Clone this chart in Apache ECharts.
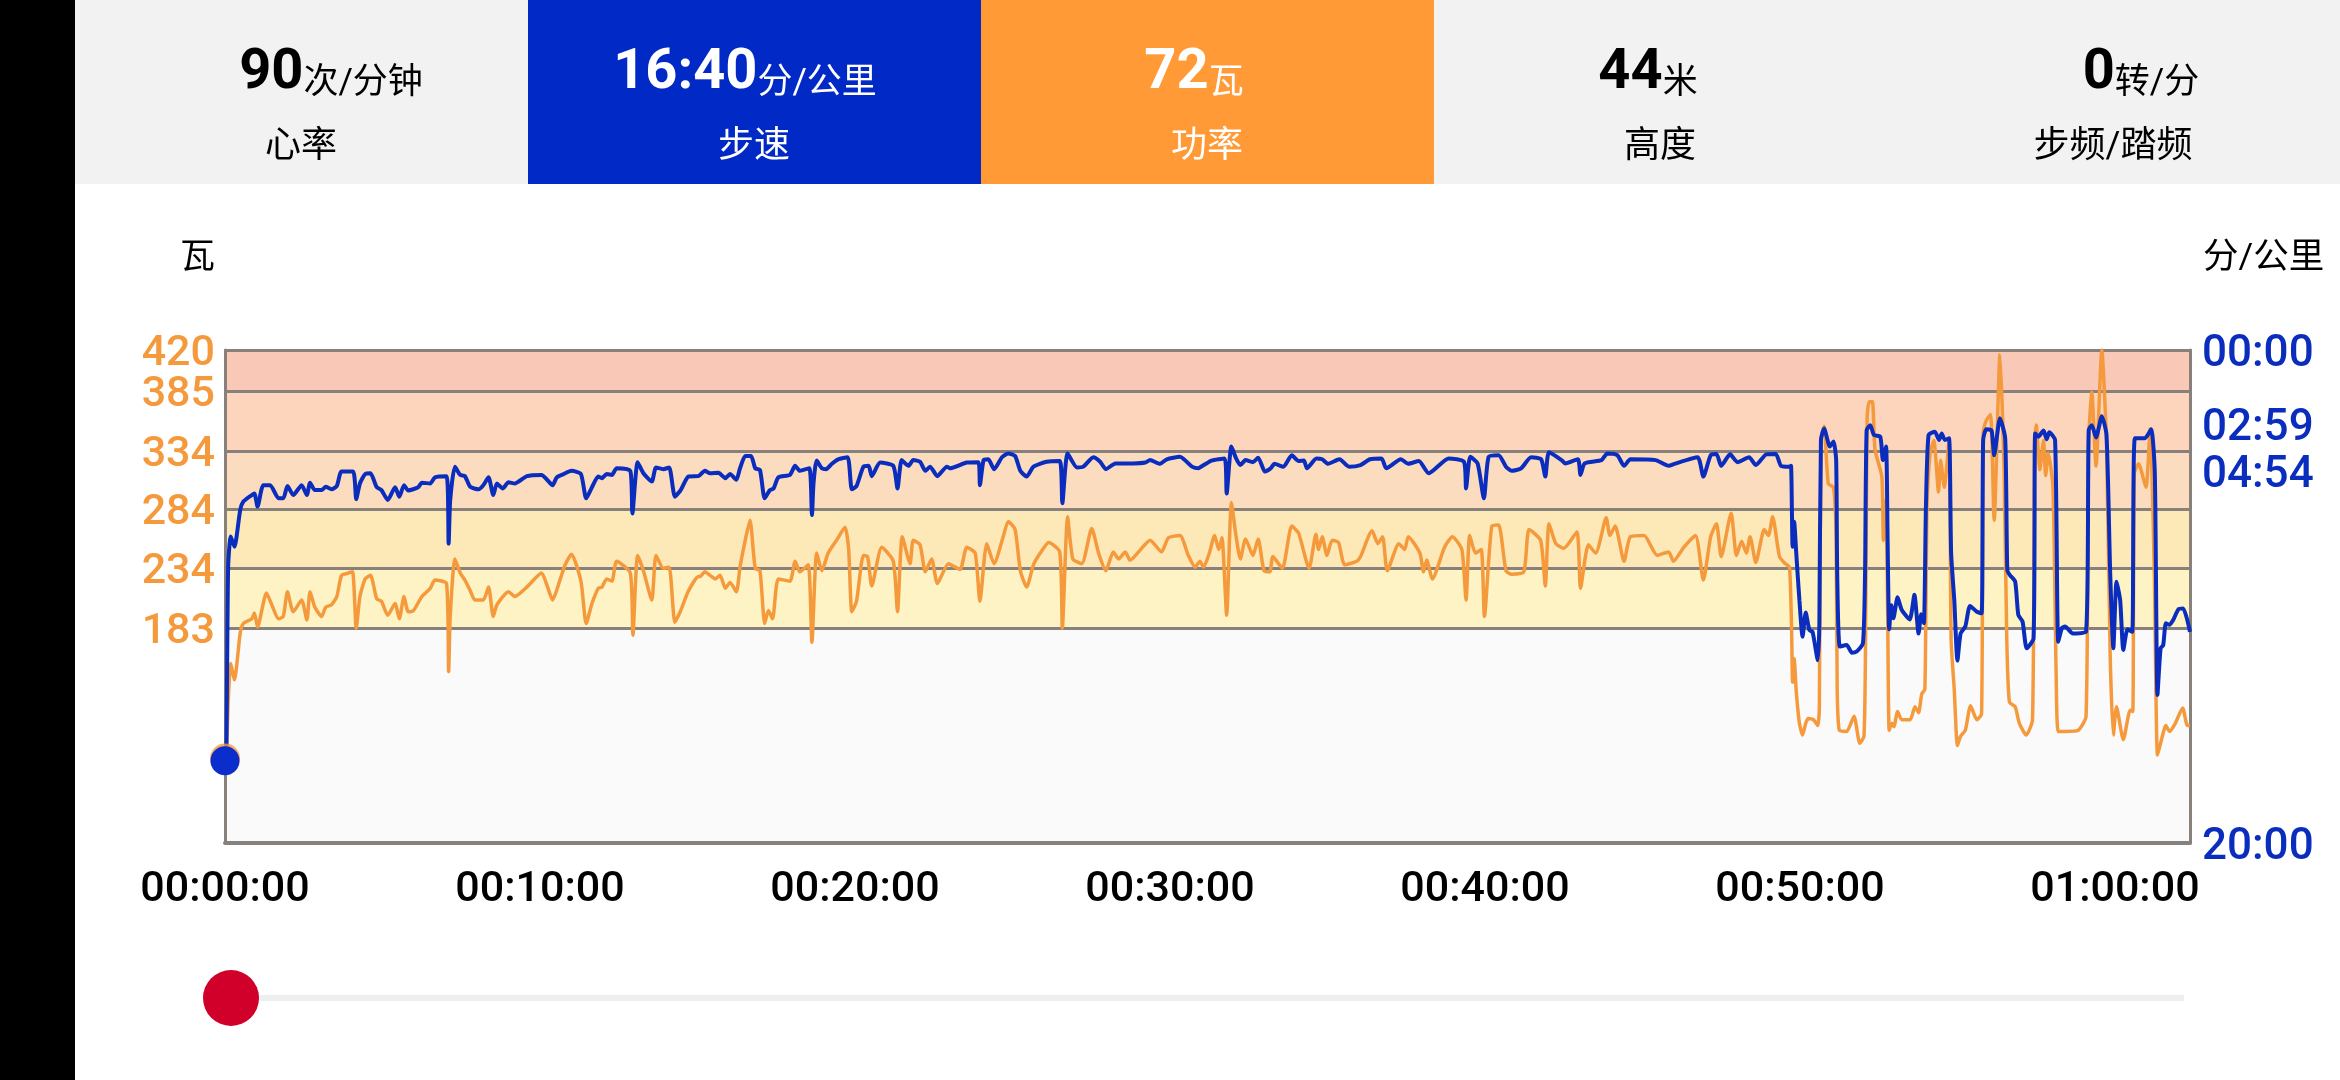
<!DOCTYPE html>
<html lang="zh">
<head>
<meta charset="utf-8">
<title>功率与步速</title>
<style>
  html, body { margin: 0; padding: 0; background: #fff; }
  #chart { width: 2340px; height: 1080px; }
</style>
<script src="https://cdn.jsdelivr.net/npm/echarts@6/dist/echarts.min.js"></script>
</head>
<body>
<div id="chart"></div>
<script>
const FONT = "Roboto, 'Noto Sans CJK SC', sans-serif";
const ORANGE = "#f59a3c";
const BLUE = "#0a2dbe";
const GRID_GREY = "#88807a";

const tileValues = ["90", "16:40", "72", "44", "0"];
const tileUnits = ["次/分钟", "分/公里", "瓦", "米", "转/分"];
const tileLabels = ["心率", "步速", "功率", "高度", "步频/踏频"];

const timeTicks = [0, 600, 1200, 1800, 2400, 3000, 3600];
const powerLines = [183, 234, 284, 334, 385, 420];
const powerTicks = [183, 234, 284, 334, 385];
const powerTopTick = [420];
const paceTicks = [0, 179, 294, 1200];
const bandEdges = [0, 183, 234, 284, 334, 385, 420];
const bandColors = ["#fafafb", "#fdf3c4", "#fde8b8", "#fcdcbe", "#fdd5bc", "#fac8b6"];

// seconds from start
const powerTimes = [
  0, 2, 6, 11, 18, 29, 35, 51, 56, 62, 79, 89, 102, 111, 119, 130, 146, 156, 162, 171, 184, 192, 203, 213, 222, 235, 243, 250, 257, 267, 277, 289, 298, 310, 324, 332, 341, 349, 359, 375, 391, 400, 422, 426, 429, 438, 448, 457, 467, 476, 492, 502, 511, 518, 540, 552, 575, 603, 613, 624, 638, 648, 660, 678, 688, 699, 711, 718, 727, 737, 746, 772, 777, 786, 797, 813, 821, 835, 846, 857, 868, 883, 902,
  905, 914, 924, 934, 943, 953, 962, 974, 981, 991, 1000, 1010, 1019, 1028, 1035, 1043, 1054, 1076, 1086, 1095, 1111, 1118, 1127, 1137, 1149, 1165, 1181, 1188, 1194, 1203, 1216, 1224, 1232, 1251, 1273, 1281, 1290, 1305, 1311, 1324, 1334, 1346, 1357, 1378, 1400, 1413, 1429, 1438, 1451, 1465, 1483, 1492, 1505, 1515, 1527, 1540, 1553, 1569, 1590, 1595, 1605, 1615, 1632, 1651, 1664, 1678, 1692, 1702, 1715, 1724, 1746, 1762, 1784, 1797, 1819, 1835, 1848,
  1857, 1864, 1875, 1885, 1893, 1899, 1908, 1917, 1926, 1934, 1944, 1958, 1968, 1979, 1990, 1996, 2014, 2032, 2045, 2065, 2078, 2083, 2090, 2099, 2109, 2121, 2133, 2156, 2163, 2185, 2196, 2205, 2214, 2236, 2247, 2254, 2276, 2283, 2289, 2300, 2323, 2338, 2356, 2364, 2371, 2382, 2393, 2399, 2413, 2426, 2440, 2451, 2474, 2484, 2506, 2515, 2522, 2535, 2550, 2575, 2582, 2597, 2611, 2631, 2638, 2648, 2665, 2677, 2703, 2728, 2750, 2759, 2779, 2801, 2816, 2830, 2841, 2850, 2869, 2879, 2889, 2898, 2905, 2916, 2932, 2940, 2948, 2961, 2972, 2980,
  2984, 2986, 2989, 2993, 2999, 3005, 3011, 3016, 3026, 3034, 3037, 3040, 3046, 3054, 3064, 3069, 3071, 3075, 3089, 3103, 3114, 3122, 3125, 3128, 3132, 3138, 3143, 3156, 3159, 3164, 3167, 3170, 3175, 3179, 3186, 3194, 3210, 3219, 3226, 3232, 3238, 3242, 3248, 3255, 3264, 3268, 3275, 3284, 3288, 3294, 3300, 3306, 3315, 3325, 3337, 3346, 3349, 3355, 3363, 3370, 3381, 3389, 3394, 3399, 3410, 3418, 3431, 3443, 3447, 3450, 3457, 3464, 3468, 3473, 3482, 3488, 3492, 3505, 3530, 3545, 3550, 3556, 3564, 3575, 3584, 3591, 3597, 3603, 3616, 3629, 3634, 3637, 3645, 3659, 3667, 3675, 3681, 3687, 3697, 3704, 3715, 3729, 3738, 3743
];
// watts
const powerValues = [
  72, 72, 120, 153, 139, 179, 187, 191, 196, 184, 213, 203, 191, 193, 214, 197, 207, 190, 214, 201, 193, 201, 203, 210, 228, 230, 231, 183, 210, 225, 228, 208, 206, 194, 204, 191, 210, 197, 198, 210, 217, 224, 221, 146, 193, 242, 230, 224, 215, 207, 207, 218, 193, 203, 214, 210, 218, 230, 220, 207, 224, 237, 246, 223, 187, 204, 217, 218, 225, 223, 240, 230, 177, 245, 232, 207, 245, 234, 235, 188, 198, 215, 227,
  227, 231, 228, 225, 228, 217, 222, 214, 235, 258, 275, 234, 232, 187, 198, 191, 225, 223, 240, 231, 237, 171, 247, 232, 247, 258, 269, 250, 197, 206, 245, 244, 219, 252, 240, 197, 261, 238, 258, 254, 231, 242, 221, 238, 233, 252, 247, 206, 255, 238, 262, 274, 267, 232, 218, 237, 247, 256, 248, 183, 278, 242, 238, 268, 247, 232, 248, 242, 248, 241, 251, 258, 248, 260, 262, 245, 235,
  240, 235, 247, 262, 250, 260, 194, 290, 261, 242, 259, 245, 259, 232, 231, 244, 234, 270, 264, 234, 263, 250, 261, 245, 258, 256, 237, 240, 244, 266, 255, 261, 232, 255, 250, 261, 247, 231, 241, 225, 252, 261, 250, 207, 262, 247, 250, 193, 270, 271, 232, 229, 231, 267, 258, 219, 272, 255, 251, 265, 217, 254, 247, 277, 262, 270, 240, 261, 262, 245, 248, 240, 252, 262, 224, 261, 272, 244, 281, 245, 257, 247, 261, 239, 267, 262, 278, 244, 238, 235,
  184, 137, 157, 129, 102, 92, 102, 106, 105, 100, 116, 343, 355, 306, 303, 258, 130, 96, 95, 108, 85, 91, 173, 363, 376, 376, 335, 312, 258, 292, 201, 96, 102, 99, 112, 105, 105, 116, 111, 127, 131, 286, 332, 343, 299, 326, 303, 343, 173, 130, 83, 91, 96, 117, 105, 110, 349, 360, 365, 275, 416, 315, 173, 120, 116, 102, 92, 105, 343, 356, 318, 343, 313, 332, 303, 145, 95, 95, 96, 108, 343, 384, 321, 420, 340, 159, 92, 116, 88, 113, 112, 315, 323, 303, 353, 230, 75, 85, 100, 95, 102, 115, 100, 100
];

// seconds from start
const paceTimes = [
  0, 2, 6, 11, 18, 29, 35, 51, 56, 62, 73, 86, 102, 111, 119, 130, 146, 156, 162, 171, 184, 192, 203, 213, 222, 244, 250, 257, 267, 277, 289, 298, 310, 324, 332, 341, 349, 368, 375, 391, 400, 422, 426, 429, 438, 448, 457, 467, 483, 492, 502, 511, 518, 529, 540, 552, 575, 603, 613, 624, 632, 645, 660, 678, 688, 699, 711, 718, 727, 737, 746, 772, 776, 786, 797, 813, 821, 835, 846, 857, 868, 883, 902,
  905, 914, 924, 940, 953, 962, 974, 981, 991, 1002, 1010, 1019, 1028, 1038, 1045, 1054, 1076, 1086, 1095, 1113, 1118, 1121, 1127, 1137, 1145, 1156, 1168, 1186, 1194, 1203, 1216, 1226, 1232, 1248, 1273, 1281, 1289, 1302, 1311, 1324, 1334, 1343, 1357, 1375, 1381, 1413, 1435, 1438, 1445, 1454, 1465, 1480, 1492, 1505, 1515, 1527, 1540, 1565, 1590, 1595, 1605, 1623, 1635, 1654, 1667, 1678, 1696, 1730, 1753, 1762, 1781, 1794, 1819, 1842, 1854,
  1857, 1879, 1904, 1908, 1917, 1926, 1934, 1944, 1958, 1968, 1981, 1992, 1999, 2016, 2032, 2045, 2055, 2061, 2079, 2090, 2101, 2123, 2141, 2163, 2181, 2203, 2212, 2240, 2254, 2274, 2293, 2331, 2360, 2364, 2372, 2386, 2398, 2407, 2426, 2440, 2451, 2469, 2488, 2507, 2515, 2522, 2546, 2553, 2577, 2582, 2590, 2622, 2633, 2652, 2665, 2677, 2725, 2750, 2761, 2805, 2816, 2830, 2841, 2850, 2867, 2881, 2903, 2916, 2936, 2954, 2964, 2980,
  2983, 2986, 2989, 2993, 2999, 3005, 3011, 3018, 3024, 3034, 3037, 3040, 3046, 3057, 3064, 3069, 3071, 3076, 3089, 3099, 3108, 3120, 3124, 3127, 3134, 3141, 3153, 3158, 3164, 3167, 3170, 3174, 3178, 3186, 3194, 3209, 3218, 3226, 3231, 3236, 3240, 3245, 3257, 3265, 3270, 3276, 3284, 3288, 3294, 3300, 3306, 3315, 3324, 3337, 3346, 3349, 3355, 3365, 3370, 3381, 3391, 3395, 3400, 3410, 3416, 3424, 3432, 3445, 3448, 3454, 3464, 3470, 3475, 3486, 3492, 3499, 3505, 3520, 3545, 3550, 3556, 3564, 3575, 3584, 3591, 3597, 3603, 3610, 3616, 3624, 3633, 3638, 3657, 3669, 3676, 3681, 3687, 3692, 3697, 3704, 3711, 3721, 3730, 3743
];
// seconds per km
const paceValues = [
  1000, 1000, 527, 454, 479, 389, 369, 353, 349, 381, 329, 329, 361, 361, 331, 353, 329, 353, 323, 341, 341, 333, 339, 331, 296, 296, 363, 325, 302, 300, 334, 341, 365, 334, 357, 329, 342, 334, 323, 325, 310, 307, 471, 365, 284, 304, 307, 333, 339, 329, 310, 353, 325, 337, 322, 325, 307, 304, 315, 329, 310, 302, 294, 302, 361, 334, 308, 312, 302, 304, 288, 294, 398, 273, 300, 320, 286, 290, 286, 357, 341, 308, 307,
  304, 294, 300, 299, 312, 302, 316, 288, 258, 258, 288, 292, 361, 341, 337, 310, 304, 282, 294, 288, 402, 325, 269, 288, 290, 277, 266, 261, 339, 331, 284, 282, 307, 274, 282, 337, 268, 282, 268, 272, 294, 284, 307, 284, 288, 274, 273, 329, 268, 266, 290, 261, 252, 258, 294, 308, 284, 272, 270, 373, 252, 286, 284, 261, 272, 290, 276, 276, 274, 268, 277, 266, 260, 284, 288,
  286, 269, 264, 349, 235, 264, 280, 268, 273, 262, 296, 288, 277, 284, 256, 270, 269, 288, 264, 266, 277, 266, 284, 280, 266, 264, 288, 266, 277, 270, 300, 264, 272, 337, 260, 276, 361, 260, 256, 284, 294, 288, 261, 266, 308, 249, 268, 276, 266, 304, 276, 268, 252, 256, 282, 266, 268, 282, 277, 261, 308, 256, 253, 282, 254, 273, 261, 280, 254, 253, 282, 284,
  282, 479, 418, 495, 609, 698, 639, 682, 686, 755, 665, 219, 191, 235, 223, 268, 544, 722, 718, 737, 734, 714, 544, 195, 183, 207, 211, 268, 235, 463, 680, 621, 653, 602, 633, 656, 596, 690, 643, 665, 381, 207, 199, 219, 203, 219, 215, 495, 609, 756, 690, 673, 623, 637, 641, 219, 193, 196, 256, 166, 215, 536, 548, 564, 645, 661, 726, 702, 203, 211, 196, 217, 200, 219, 710, 677, 673, 690, 686, 195, 183, 213, 161, 207, 544, 726, 564, 609, 730, 680, 686, 215, 215, 193, 300, 840, 726, 718, 665, 669, 657, 631, 629, 686
];

function formatClock(seconds) {
  const h = Math.floor(seconds / 3600);
  const m = Math.floor((seconds % 3600) / 60);
  const s = seconds % 60;
  return [h, m, s].map((n) => String(n).padStart(2, "0")).join(":");
}

function formatPace(seconds) {
  const m = Math.floor(seconds / 60);
  const s = seconds % 60;
  return String(m).padStart(2, "0") + ":" + String(s).padStart(2, "0");
}

function toPairs(xs, ys) {
  return xs.map((x, i) => [x, ys[i]]);
}

function buildBands() {
  return bandColors.map((color, i) => [
    { yAxis: bandEdges[i], itemStyle: { color: color } },
    { yAxis: bandEdges[i + 1] },
  ]);
}

function buildTiles() {
  const tileWidth = 453;
  const fills = ["#f2f2f2", "#0029c6", "#ff9a36", "#f2f2f2", "#f2f2f2"];
  const valueCentres = [331, 745, 1194, 1648, 2141];
  const labelCentres = [301, 754, 1207, 1660, 2113];
  const tiles = [
    { type: "rect", shape: { x: 0, y: 0, width: 75, height: 1080 }, style: { fill: "#000" }, z: -10 },
    { type: "rect", shape: { x: 1434, y: 0, width: 906, height: 184 }, style: { fill: "#f2f2f2" }, z: -10 },
  ];

  tileValues.forEach((value, i) => {
    const textColor = i === 1 || i === 2 ? "#fff" : "#000";

    if (i < 3) {
      tiles.push({
        type: "rect",
        shape: { x: 75 + i * tileWidth, y: 0, width: tileWidth, height: 184 },
        style: { fill: fills[i] },
        z: -10,
      });
    }

    tiles.push({
      type: "text",
      z: 5,
      style: {
        x: valueCentres[i],
        y: 72,
        align: "center",
        verticalAlign: "middle",
        text: "{v|" + value + "}{u|" + tileUnits[i] + "}",
        fill: textColor,
        rich: {
          v: { fontFamily: FONT, fontSize: 56, fontWeight: "bold", fill: textColor, verticalAlign: "bottom", lineHeight: 60 },
          u: { fontFamily: FONT, fontSize: 35, fill: textColor, verticalAlign: "bottom", lineHeight: 46 },
        },
      },
    });

    tiles.push({
      type: "text",
      z: 5,
      style: {
        x: labelCentres[i],
        y: 148,
        align: "center",
        verticalAlign: "middle",
        text: tileLabels[i],
        fontFamily: FONT,
        fontSize: 36,
        fill: textColor,
      },
    });
  });

  return tiles;
}

function buildSlider() {
  return [
    { type: "rect", shape: { x: 250, y: 995, width: 1934, height: 6 }, style: { fill: "#eeeeee" }, z: 5 },
    { type: "circle", shape: { cx: 231, cy: 998, r: 28 }, style: { fill: "#d0002a" }, z: 6 },
  ];
}

function powerLabelStyle(values) {
  return {
    customValues: values,
    color: ORANGE,
    fontFamily: FONT,
    fontWeight: 500,
    fontSize: 43,
    verticalAlign: "top",
    lineHeight: 8,
    margin: 10,
  };
}

const chart = echarts.init(document.getElementById("chart"));

chart.setOption({
  animation: false,
  backgroundColor: "#fff",
  textStyle: { fontFamily: FONT },
  grid: { left: 225, right: 150, top: 350, height: 493, containLabel: false },
  xAxis: {
    type: "value",
    min: 0,
    max: 3743,
    splitLine: { show: false },
    axisTick: { show: false },
    axisLine: { show: true, onZero: false, lineStyle: { color: GRID_GREY, width: 4 } },
    axisLabel: {
      customValues: timeTicks,
      formatter: formatClock,
      color: "#000",
      fontFamily: FONT,
      fontWeight: 500,
      fontSize: 43,
      margin: 26,
    },
  },
  yAxis: [
    {
      type: "value",
      min: 0,
      max: 420,
      name: "瓦",
      nameLocation: "end",
      nameGap: 91,
      nameTextStyle: { color: "#000", fontSize: 35, fontFamily: FONT, align: "right", verticalAlign: "middle", padding: [0, 10, 0, 0] },
      axisLine: { show: true, lineStyle: { color: GRID_GREY, width: 3 } },
      axisTick: { show: false, customValues: powerLines },
      splitLine: { show: true, lineStyle: { color: GRID_GREY, width: 3 } },
      axisLabel: powerLabelStyle(powerTicks),
    },
    {
      type: "value",
      min: 0,
      max: 1200,
      inverse: true,
      position: "right",
      name: "分/公里",
      nameLocation: "start",
      nameGap: 91,
      nameTextStyle: { color: "#000", fontSize: 35.5, fontFamily: FONT, align: "left", verticalAlign: "middle", padding: [0, 0, 0, 13] },
      axisLine: { show: true, lineStyle: { color: GRID_GREY, width: 3 } },
      axisTick: { show: false, customValues: paceTicks },
      splitLine: { show: false },
      axisLabel: {
        customValues: paceTicks,
        formatter: formatPace,
        color: BLUE,
        fontFamily: FONT,
        fontWeight: 500,
        fontSize: 44,
        verticalAlign: "top",
        lineHeight: 10,
        margin: 12,
      },
    },
    // the 420 label sits too close to 385 for one axis to keep both
    {
      type: "value",
      min: 0,
      max: 420,
      position: "left",
      axisLine: { show: false },
      axisTick: { show: false, customValues: powerTopTick },
      splitLine: { show: false },
      axisLabel: powerLabelStyle(powerTopTick),
    },
  ],
  series: [
    {
      name: "功率",
      type: "line",
      yAxisIndex: 0,
      data: toPairs(powerTimes, powerValues),
      showSymbol: false,
      smooth: 0.2,
      lineStyle: { color: ORANGE, width: 3.5 },
      itemStyle: { color: ORANGE },
      markArea: { silent: true, z: -1, data: buildBands() },
      z: 3,
    },
    {
      name: "步速",
      type: "line",
      yAxisIndex: 1,
      data: toPairs(paceTimes, paceValues),
      showSymbol: false,
      smooth: 0.2,
      lineStyle: { color: BLUE, width: 4 },
      itemStyle: { color: BLUE },
      z: 4,
    },
    {
      name: "当前功率",
      type: "scatter",
      yAxisIndex: 0,
      data: [[powerTimes[0], powerValues[0]]],
      symbolSize: 30,
      clip: false,
      itemStyle: { color: ORANGE },
      z: 5,
    },
    {
      name: "当前步速",
      type: "scatter",
      yAxisIndex: 1,
      data: [[paceTimes[0], paceValues[0]]],
      symbolSize: 29,
      clip: false,
      itemStyle: { color: "#0a2dcc", opacity: 1 },
      z: 6,
    },
  ],
  graphic: buildTiles().concat(buildSlider()),
});
</script>
</body>
</html>
